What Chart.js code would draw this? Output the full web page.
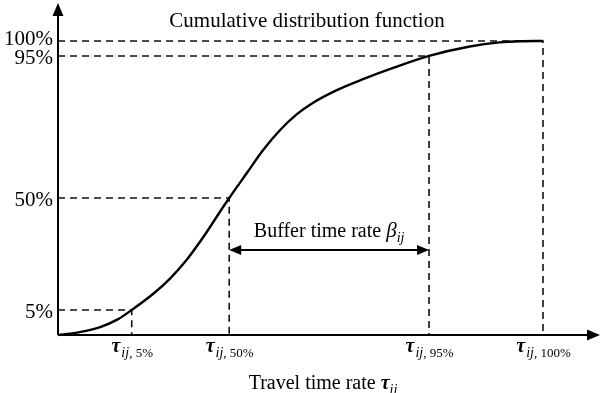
<!DOCTYPE html>
<html>
<head>
<meta charset="utf-8">
<script src="https://cdn.jsdelivr.net/npm/chart.js@4.4.1/dist/chart.umd.min.js"></script>
<style>
  html,body{margin:0;padding:0;background:#fff;}
  #wrap{width:600px;height:393px;}
</style>
</head>
<body>
<div id="wrap"><canvas id="c" width="600" height="393"></canvas></div>
<script>
// Cumulative distribution curve (schematic): travel time rate (x) vs cumulative share (y)
const curveX = [0, 0.045, 0.087, 0.124, 0.152, 0.197, 0.231, 0.265, 0.300, 0.334, 0.353, 0.389, 0.423, 0.458, 0.492, 0.526, 0.575, 0.629, 0.691, 0.765, 0.849, 0.911, 0.953, 1.0];
const curveY = [0, 0.010, 0.027, 0.054, 0.085, 0.141, 0.192, 0.255, 0.334, 0.419, 0.466, 0.550, 0.629, 0.697, 0.750, 0.790, 0.833, 0.870, 0.908, 0.949, 0.981, 0.995, 0.999, 1.0];

// Percentile markers
const percentLabels = ['5%', '50%', '95%', '100%'];
const percentX = [0.152, 0.353, 0.765, 1.0];   // tau_ij at each percentile
const percentY = [0.085, 0.466, 0.949, 1.0];   // drawn CDF level of each percentile

const titleText = 'Cumulative distribution function';
const xTitleText = 'Travel time rate ';
const bufferText = 'Buffer time rate ';

const SERIF = '"Liberation Serif", "Times New Roman", serif';

const curveData = curveX.map((x, i) => ({x: x, y: curveY[i]}));
const datasets = [{
  data: curveData,
  borderColor: '#000',
  borderWidth: 2.4,
  pointRadius: 0,
  cubicInterpolationMode: 'monotone',
  fill: false,
  clip: false
}];
percentX.forEach((px, i) => {
  datasets.push({
    data: [{x: 0, y: percentY[i]}, {x: px, y: percentY[i]}, {x: px, y: 0}],
    borderColor: '#111',
    borderWidth: 1.6,
    borderDash: [7, 5],
    pointRadius: 0,
    tension: 0,
    fill: false,
    clip: false
  });
});

const decor = {
  id: 'decor',
  afterDatasetsDraw(chart) {
    const ctx = chart.ctx;
    const xs = chart.scales.x, ys = chart.scales.y;
    const a = chart.chartArea;
    const x0 = xs.getPixelForValue(0), y0 = ys.getPixelForValue(0);
    ctx.save();
    ctx.fillStyle = '#000';
    ctx.strokeStyle = '#000';
    // axes
    ctx.lineWidth = 2;
    ctx.beginPath();
    ctx.moveTo(x0, y0); ctx.lineTo(a.right - 10, y0);
    ctx.moveTo(x0, y0); ctx.lineTo(x0, a.top + 10);
    ctx.stroke();
    ctx.beginPath();
    ctx.moveTo(a.right, y0); ctx.lineTo(a.right - 13, y0 - 5.5); ctx.lineTo(a.right - 13, y0 + 5.5); ctx.closePath();
    ctx.fill();
    ctx.beginPath();
    ctx.moveTo(x0, a.top); ctx.lineTo(x0 - 5.5, a.top + 13); ctx.lineTo(x0 + 5.5, a.top + 13); ctx.closePath();
    ctx.fill();

    // y tick labels
    ctx.font = '21px ' + SERIF;
    ctx.textAlign = 'right';
    ctx.textBaseline = 'alphabetic';
    let prev = null;
    for (let i = 0; i < percentY.length; i++) {
      let py = ys.getPixelForValue(percentY[i]) + 8;
      if (prev !== null && prev - py < 19) py = prev - 19;
      ctx.fillText(percentLabels[i], x0 - 5, py);
      prev = py;
    }

    // x tick labels: tau_{ij, p}
    percentX.forEach((v, i) => {
      const px = xs.getPixelForValue(v);
      const base = y0 + 17;
      const parts = [
        {t: '\u03C4', f: 'italic bold 20px ' + SERIF, dy: 0},
        {t: 'ij', f: 'italic 14px ' + SERIF, dy: 5},
        {t: ', ' + percentLabels[i], f: '13px ' + SERIF, dy: 5}
      ];
      let w = 0;
      parts.forEach(p => { ctx.font = p.f; p.w = ctx.measureText(p.t).width; w += p.w; });
      let x = px - w / 2;
      ctx.textAlign = 'left';
      parts.forEach(p => { ctx.font = p.f; ctx.fillText(p.t, x, base + p.dy); x += p.w + (p.t === 'ij' ? 0 : 1); });
    });

    // x axis title
    {
      const parts = [
        {t: xTitleText, f: '20px ' + SERIF, dy: 0},
        {t: '\u03C4', f: 'italic bold 20px ' + SERIF, dy: 0},
        {t: 'ij', f: 'italic 14px ' + SERIF, dy: 5}
      ];
      let w = 0;
      parts.forEach(p => { ctx.font = p.f; p.w = ctx.measureText(p.t).width; w += p.w; });
      let x = 323 - w / 2;
      parts.forEach(p => { ctx.font = p.f; ctx.fillText(p.t, x, 389 + p.dy); x += p.w; });
    }

    // title
    ctx.font = '21px ' + SERIF;
    ctx.textAlign = 'center';
    ctx.fillText(titleText, 307, 27);

    // buffer arrow between tau 50% and tau 95%
    const ax1 = xs.getPixelForValue(percentX[1]);
    const ax2 = xs.getPixelForValue(percentX[2]);
    const ay = 250;
    ctx.lineWidth = 2;
    ctx.beginPath();
    ctx.moveTo(ax1 + 8, ay); ctx.lineTo(ax2 - 8, ay);
    ctx.stroke();
    ctx.beginPath();
    ctx.moveTo(ax1, ay); ctx.lineTo(ax1 + 12, ay - 5); ctx.lineTo(ax1 + 12, ay + 5); ctx.closePath();
    ctx.fill();
    ctx.beginPath();
    ctx.moveTo(ax2, ay); ctx.lineTo(ax2 - 12, ay - 5); ctx.lineTo(ax2 - 12, ay + 5); ctx.closePath();
    ctx.fill();
    {
      const parts = [
        {t: bufferText, f: '20px ' + SERIF, dy: 0},
        {t: '\u03B2', f: 'italic 21px ' + SERIF, dy: 0},
        {t: 'ij', f: 'italic 14px ' + SERIF, dy: 5}
      ];
      let w = 0;
      parts.forEach(p => { ctx.font = p.f; p.w = ctx.measureText(p.t).width; w += p.w; });
      let x = (ax1 + ax2) / 2 - w / 2;
      ctx.textAlign = 'left';
      parts.forEach(p => { ctx.font = p.f; ctx.fillText(p.t, x, ay - 13 + p.dy); x += p.w; });
    }
    ctx.restore();
  }
};

new Chart(document.getElementById('c'), {
  type: 'line',
  data: {datasets: datasets},
  options: {
    responsive: false,
    animation: false,
    events: [],
    layout: {padding: {left: 58, right: 0, top: 3, bottom: 58}},
    plugins: {legend: {display: false}, tooltip: {enabled: false}, title: {display: false}},
    scales: {
      x: {type: 'linear', min: 0, max: 1.1175, display: false},
      y: {type: 'linear', min: 0, max: 1.129, display: false}
    }
  },
  plugins: [decor]
});
</script>
</body>
</html>
